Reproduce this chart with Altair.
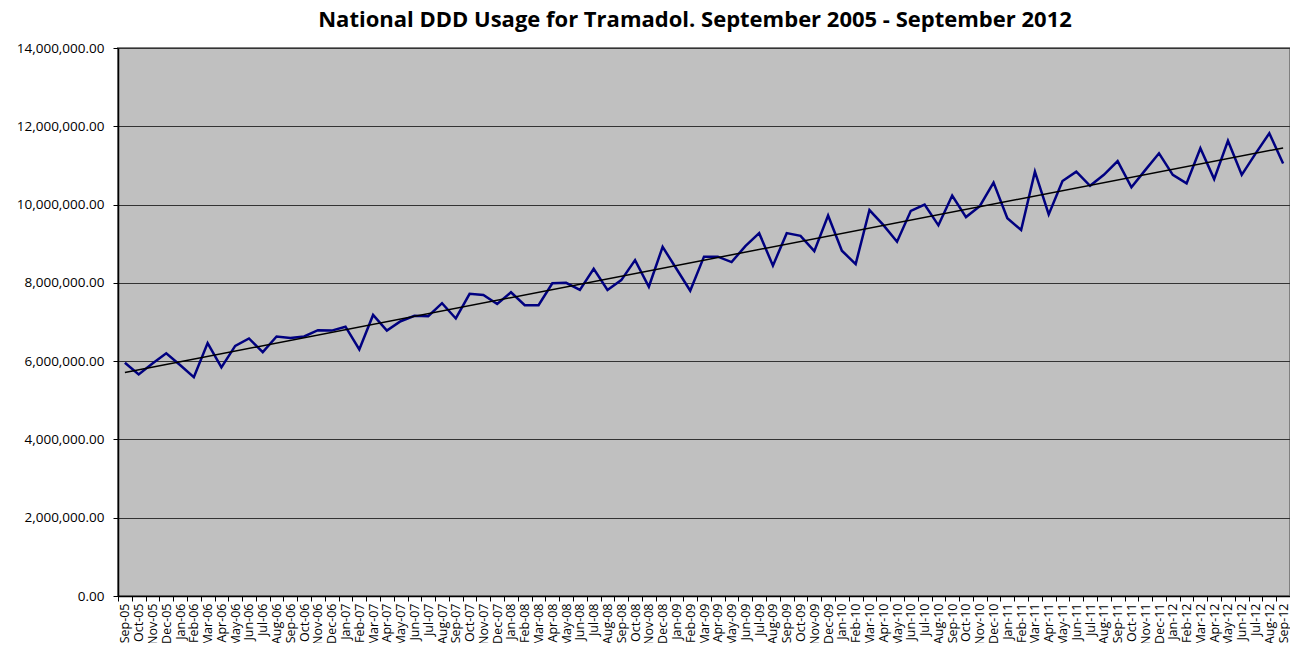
import altair as alt
import pandas as pd

months = [
    "Sep-05", "Oct-05", "Nov-05", "Dec-05",
    "Jan-06", "Feb-06", "Mar-06", "Apr-06", "May-06", "Jun-06", "Jul-06", "Aug-06", "Sep-06", "Oct-06", "Nov-06", "Dec-06",
    "Jan-07", "Feb-07", "Mar-07", "Apr-07", "May-07", "Jun-07", "Jul-07", "Aug-07", "Sep-07", "Oct-07", "Nov-07", "Dec-07",
    "Jan-08", "Feb-08", "Mar-08", "Apr-08", "May-08", "Jun-08", "Jul-08", "Aug-08", "Sep-08", "Oct-08", "Nov-08", "Dec-08",
    "Jan-09", "Feb-09", "Mar-09", "Apr-09", "May-09", "Jun-09", "Jul-09", "Aug-09", "Sep-09", "Oct-09", "Nov-09", "Dec-09",
    "Jan-10", "Feb-10", "Mar-10", "Apr-10", "May-10", "Jun-10", "Jul-10", "Aug-10", "Sep-10", "Oct-10", "Nov-10", "Dec-10",
    "Jan-11", "Feb-11", "Mar-11", "Apr-11", "May-11", "Jun-11", "Jul-11", "Aug-11", "Sep-11", "Oct-11", "Nov-11", "Dec-11",
    "Jan-12", "Feb-12", "Mar-12", "Apr-12", "May-12", "Jun-12", "Jul-12", "Aug-12", "Sep-12",
]

ddd_millions = [
    5.96, 5.66, 5.94, 6.20,
    5.90, 5.59, 6.46, 5.84, 6.39, 6.58, 6.23, 6.63, 6.59, 6.63, 6.79, 6.78,
    6.88, 6.30, 7.18, 6.78, 7.02, 7.16, 7.15, 7.48, 7.09, 7.72, 7.69, 7.46,
    7.76, 7.43, 7.43, 7.99, 8.00, 7.82, 8.36, 7.82, 8.07, 8.58, 7.90, 8.92,
    8.36, 7.80, 8.67, 8.67, 8.53, 8.94, 9.27, 8.44, 9.27, 9.20, 8.81, 9.72,
    8.82, 8.48, 9.86, 9.48, 9.05, 9.84, 10.00, 9.47, 10.23, 9.68, 9.96, 10.56,
    9.65, 9.35, 10.84, 9.75, 10.60, 10.84, 10.48, 10.76, 11.11, 10.44, 10.88, 11.31,
    10.76, 10.54, 11.44, 10.65, 11.63, 10.76, 11.30, 11.82, 11.05,
]

y_ticks = [0, 2000000, 4000000, 6000000, 8000000, 10000000, 12000000, 14000000]

df = pd.DataFrame({
    "i": list(range(len(months))),
    "month": months,
    "ddd": [v * 1_000_000 for v in ddd_millions],
})

FONT = "Open Sans"

x_enc = alt.X(
    "month:O",
    sort=months,
    scale=alt.Scale(type="band", domain=months, paddingInner=0, paddingOuter=0),
    axis=alt.Axis(
        title=None,
        labelAngle=-90,
        labelAlign="right",
        labelBaseline="middle",
        labelFont=FONT,
        labelFontSize=12.5,
        labelColor="#000000",
        labelPadding=2,
        tickBand="extent",
        tickSize=5,
        tickColor="#000000",
        domainColor="#000000",
        domainWidth=1.5,
        grid=False,
        labelOverlap=False,
    ),
)

y_scale = alt.Scale(domain=[0, 14000000], nice=False)

line = alt.Chart(df).mark_line(color="#000080", strokeWidth=2.5).encode(
    x=x_enc,
    y=alt.Y(
        "ddd:Q",
        scale=y_scale,
        axis=alt.Axis(
            title=None,
            values=y_ticks,
            format=",.2f",
            labelFont=FONT,
            labelFontSize=13.5,
            labelColor="#000000",
            labelPadding=9,
            tickSize=5,
            tickColor="#000000",
            domainColor="#000000",
            domainWidth=1.5,
            grid=True,
            gridColor="#333333",
            gridWidth=1,
        ),
    ),
)

trend = (
    alt.Chart(df)
    .transform_regression("i", "ddd", method="linear", extent=[0, len(months) - 1])
    .transform_lookup(lookup="i", from_=alt.LookupData(data=df, key="i", fields=["month"]))
    .mark_line(color="#000000", strokeWidth=1.5)
    .encode(x=alt.X("month:O", sort=months), y=alt.Y("ddd:Q"))
)

chart = (
    alt.layer(line, trend)
    .properties(
        width=1172,
        height=548,
        autosize=alt.AutoSizeParams(type="none"),
        padding={"left": 110, "top": 40, "right": 0, "bottom": 47},
        title=alt.TitleParams(
            "National DDD Usage for Tramadol. September 2005 - September 2012",
            font=FONT,
            fontSize=22,
            fontWeight="bold",
            color="#000000",
            anchor="middle",
            frame="group",
            offset=9,
            dx=-9,
        ),
        background="#ffffff",
    )
    .configure_view(fill="#C0C0C0", stroke="#808080", strokeWidth=2)
)

chart.save("out.html", embed_options={"renderer": "svg", "actions": False})
